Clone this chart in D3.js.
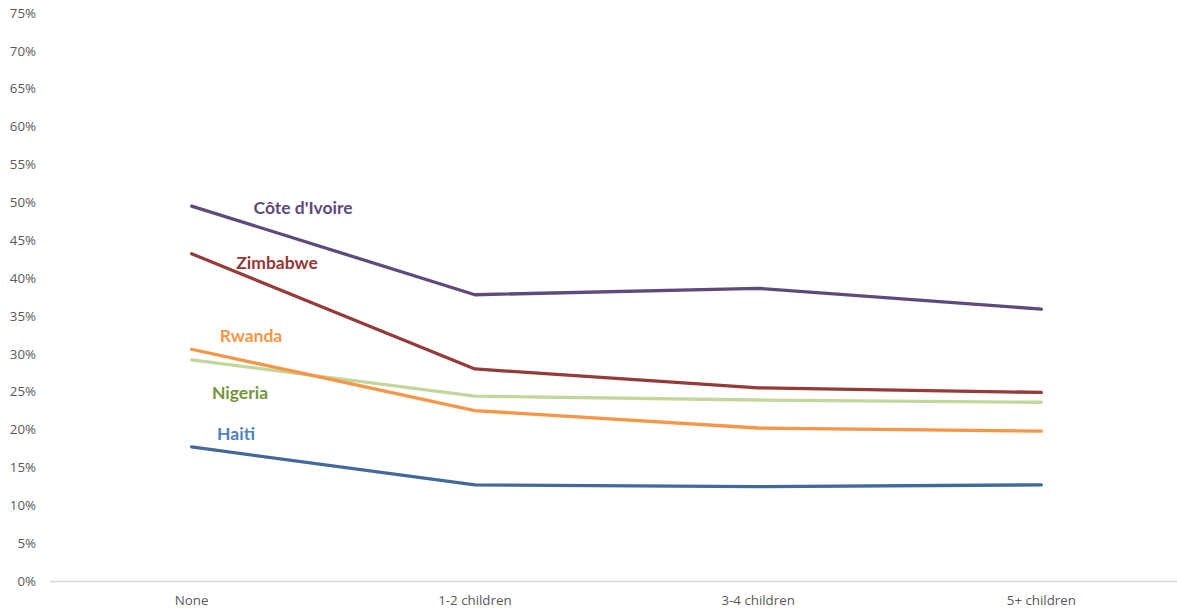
<!DOCTYPE html>
<html>
<head>
<meta charset="utf-8">
<script src="https://cdn.jsdelivr.net/npm/d3@7"></script>
<style>
  html, body { margin: 0; padding: 0; background: #fff; }
  svg { display: block; }
  .tick text { font-family: "Open Sans", "Noto Sans", sans-serif; font-size: 13.3px; fill: #595959; }
  .lbl { font-family: Lato, "Open Sans", sans-serif; font-weight: bold; font-size: 17.5px; }
</style>
</head>
<body>
<svg id="chart" width="1177" height="611"></svg>
<script>
const categories = ["None", "1-2 children", "3-4 children", "5+ children"];
const coteDIvoire = [49.5, 37.8, 38.65, 35.9];
const zimbabwe    = [43.2, 28.0, 25.5, 24.9];
const rwanda      = [30.6, 22.5, 20.2, 19.8];
const nigeria     = [29.2, 24.4, 23.9, 23.6];
const haiti       = [17.7, 12.7, 12.45, 12.7];
const yTicks = [0,5,10,15,20,25,30,35,40,45,50,55,60,65,70,75];

const series = [
  { name: "Nigeria", values: nigeria, color: "#C3D69B", text: "#77933C", lx: 240, ly: 393 },
  { name: "Haiti", values: haiti, color: "#41699B", text: "#4F81BD", lx: 236, ly: 434 },
  { name: "Rwanda", values: rwanda, color: "#F79646", text: "#F79646", lx: 251, ly: 336 },
  { name: "Zimbabwe", values: zimbabwe, color: "#953B39", text: "#953735", lx: 277, ly: 263 },
  { name: "Côte d'Ivoire", values: coteDIvoire, color: "#5F4B7B", text: "#604A7B", lx: 303, ly: 208 }
];

const svg = d3.select("#chart");
const mLeft = 50, mRight = 1183, mTop = 13, mBottom = 581;

const x = d3.scaleBand().domain(categories).range([mLeft, mRight]);
const y = d3.scaleLinear().domain([0, 75]).range([mBottom, mTop]);

// y axis labels
const yAxis = svg.append("g").attr("transform", `translate(${mLeft},0)`)
  .call(d3.axisLeft(y).tickValues(yTicks).tickFormat(d => d + "%").tickSize(0).tickPadding(14));
yAxis.select(".domain").remove();

// x axis
const xAxis = svg.append("g").attr("transform", `translate(0,${mBottom})`)
  .call(d3.axisBottom(x).tickSize(0).tickPadding(15));
xAxis.select(".domain").attr("stroke", "#d9d9d9").attr("stroke-width", 1.3)
  .attr("d", `M${mLeft},0.5H1177`);

const line = d3.line()
  .x((d, i) => x(categories[i]) + x.bandwidth() / 2)
  .y(d => y(d));

svg.append("g").selectAll("path").data(series).join("path")
  .attr("d", d => line(d.values))
  .attr("fill", "none")
  .attr("stroke", d => d.color)
  .attr("stroke-width", 3.3)
  .attr("stroke-linejoin", "round")
  .attr("stroke-linecap", "round");

svg.append("g").selectAll("text").data(series).join("text")
  .attr("class", "lbl")
  .attr("x", d => d.lx)
  .attr("y", d => d.ly)
  .attr("dy", "0.35em")
  .attr("text-anchor", "middle")
  .attr("fill", d => d.text)
  .text(d => d.name);
</script>
</body>
</html>
